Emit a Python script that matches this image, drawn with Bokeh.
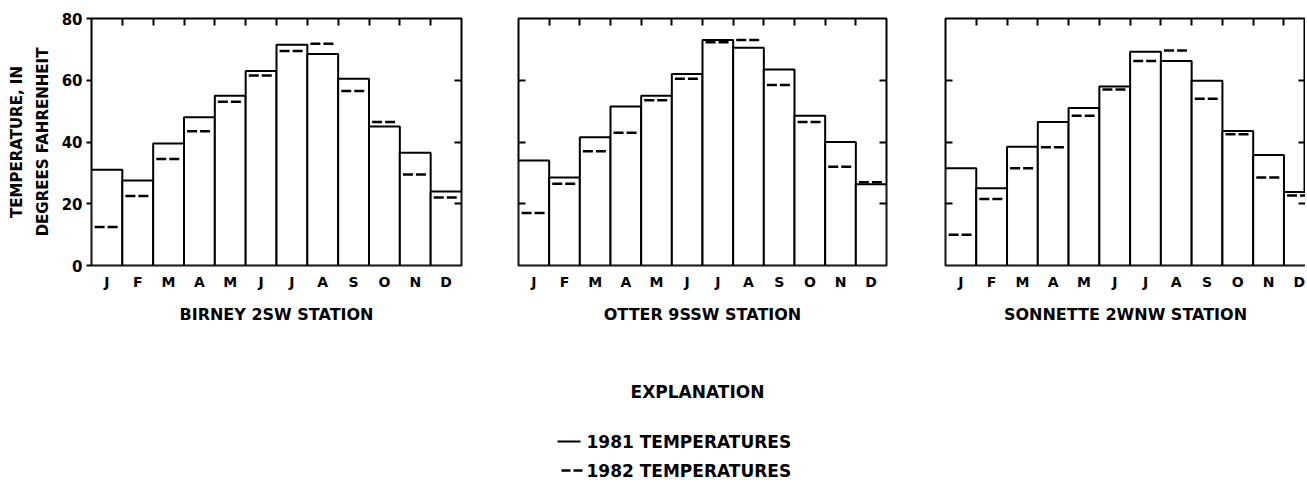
from bokeh.plotting import figure
from bokeh.layouts import column, row
from bokeh.models import Range1d, LinearAxis, FixedTicker, CustomJSTickFormatter
from bokeh.core.properties import value
from bokeh.embed import file_html
from bokeh.resources import INLINE

# ---------------- data ----------------
MONTHS = ["J", "F", "M", "A", "M", "J", "J", "A", "S", "O", "N", "D"]

STATIONS = ["BIRNEY 2SW STATION", "OTTER 9SSW STATION", "SONNETTE 2WNW STATION"]

BIRNEY_1981 = [31, 27.5, 39.5, 48, 55, 63, 71.5, 68.5, 60.5, 45, 36.5, 24]
BIRNEY_1982 = [12.5, 22.5, 34.5, 43.5, 53, 61.5, 69.5, 71.8, 56.5, 46.5, 29.5, 22]

OTTER_1981 = [34, 28.5, 41.5, 51.5, 55, 62, 73, 70.5, 63.5, 48.5, 40, 26.3]
OTTER_1982 = [17, 26.5, 37, 43, 53.5, 60.5, 72.3, 73, 58.5, 46.5, 32, 27]

SONNETTE_1981 = [31.5, 25, 38.5, 46.5, 51, 58, 69.2, 66.2, 59.8, 43.6, 35.8, 23.8]
SONNETTE_1982 = [10, 21.5, 31.5, 38.3, 48.5, 57, 66.2, 69.6, 54, 42.5, 28.5, 22.7]

Y_TICKS = [0, 20, 40, 60, 80]
LEGEND_TITLE = "EXPLANATION"
LEGEND_LABELS = ["1981 TEMPERATURES", "1982 TEMPERATURES"]

FONT = "DejaVu Sans"


def empty_fmt():
    return CustomJSTickFormatter(code="return ''")


def panel(name, v81, v82, width, min_left, min_right, x_end, labelled):
    p = figure(width=width, height=338,
               x_range=Range1d(0, x_end), y_range=Range1d(0, 80),
               output_backend="svg", toolbar_location=None,
               x_axis_location=None, y_axis_location=None,
               min_border_left=min_left, min_border_right=min_right,
               min_border_top=18, min_border_bottom=73)
    p.grid.grid_line_color = None
    p.outline_line_color = "black"
    p.outline_line_width = 2
    p.background_fill_color = "white"
    p.border_fill_color = "white"

    n = len(MONTHS)
    left = list(range(n))
    right = [i + 1 for i in range(n)]
    p.quad(left=left, right=right, bottom=[0] * n, top=v81,
           fill_color="white", line_color="black", line_width=2)
    p.segment(x0=[i + 0.1 for i in range(n)], x1=[i + 0.9 for i in range(n)],
              y0=v82, y1=v82, line_color="black", line_width=2.5,
              line_dash="10 3")

    # bottom axis: month letters + station name
    xb = LinearAxis(ticker=FixedTicker(ticks=[i + 0.5 for i in range(n)]),
                    formatter=CustomJSTickFormatter(args=dict(m=MONTHS),
                                                    code="return m[Math.floor(tick)] || ''"),
                    axis_label=name)
    xb.axis_line_color = None
    xb.major_tick_line_color = None
    xb.minor_tick_line_color = None
    xb.major_tick_in = 0
    xb.major_tick_out = 0
    xb.major_label_standoff = 8
    xb.major_label_text_font = FONT
    xb.major_label_text_font_style = "bold"
    xb.major_label_text_font_size = "14px"
    xb.major_label_text_color = "black"
    xb.axis_label_standoff = 12
    xb.axis_label_text_font = FONT
    xb.axis_label_text_font_style = "bold"
    xb.axis_label_text_font_size = "16px"
    xb.axis_label_text_color = "black"
    p.add_layout(xb, "below")

    # top axis: inward ticks at month boundaries
    xt = LinearAxis(ticker=FixedTicker(ticks=list(range(1, n))), formatter=empty_fmt())
    xt.axis_line_color = None
    xt.minor_tick_line_color = None
    xt.major_tick_in = 7
    xt.major_tick_out = 0
    xt.major_tick_line_width = 2
    xt.major_label_standoff = 0
    xt.major_label_text_font_size = "0px"
    p.add_layout(xt, "above")

    # left axis
    if labelled:
        yl = LinearAxis(ticker=FixedTicker(ticks=Y_TICKS), axis_label="DEGREES FAHRENHEIT")
        yl.major_tick_in = 0
        yl.major_tick_out = 5
        yl.major_label_standoff = 4
        yl.major_label_text_font = FONT
        yl.major_label_text_font_style = "bold"
        yl.major_label_text_font_size = "15px"
        yl.major_label_text_color = "black"
        yl.axis_label_standoff = 7
        yl.axis_label_text_font = FONT
        yl.axis_label_text_font_style = "bold"
        yl.axis_label_text_font_size = "15px"
        yl.axis_label_text_color = "black"
    else:
        yl = LinearAxis(ticker=FixedTicker(ticks=Y_TICKS[1:-1]), formatter=empty_fmt())
        yl.major_tick_in = 7
        yl.major_tick_out = 0
        yl.major_label_standoff = 0
        yl.major_label_text_font_size = "0px"
    yl.axis_line_color = None
    yl.minor_tick_line_color = None
    yl.major_tick_line_width = 2
    p.add_layout(yl, "left")

    if labelled:
        yo = LinearAxis(ticker=FixedTicker(ticks=[]), formatter=empty_fmt(),
                        axis_label="TEMPERATURE, IN")
        yo.axis_line_color = None
        yo.major_tick_line_color = None
        yo.minor_tick_line_color = None
        yo.major_tick_in = 0
        yo.major_tick_out = 0
        yo.major_label_standoff = 0
        yo.major_label_text_font_size = "0px"
        yo.axis_label_standoff = 5
        yo.axis_label_text_font = FONT
        yo.axis_label_text_font_style = "bold"
        yo.axis_label_text_font_size = "15px"
        yo.axis_label_text_color = "black"
        p.add_layout(yo, "left")

    # right axis: inward ticks
    yr = LinearAxis(ticker=FixedTicker(ticks=Y_TICKS[1:-1]), formatter=empty_fmt())
    yr.axis_line_color = None
    yr.minor_tick_line_color = None
    yr.major_tick_in = 7
    yr.major_tick_out = 0
    yr.major_tick_line_width = 2
    yr.major_label_standoff = 0
    yr.major_label_text_font_size = "0px"
    p.add_layout(yr, "right")
    return p


p1 = panel(STATIONS[0], BIRNEY_1981, BIRNEY_1982, 489, 91, 28, 12, True)
p2 = panel(STATIONS[1], OTTER_1981, OTTER_1982, 427, 29, 30, 12, False)
p3 = panel(STATIONS[2], SONNETTE_1981, SONNETTE_1982, 389, 29, 0, 11.7, False)

# ---------------- explanation (legend) ----------------
leg = figure(width=1305, height=154, x_range=Range1d(0, 1305), y_range=Range1d(492, 338),
             output_backend="svg", toolbar_location=None,
             x_axis_location=None, y_axis_location=None,
             min_border=0, min_border_left=0, min_border_right=0,
             min_border_top=0, min_border_bottom=0)
leg.grid.grid_line_color = None
leg.outline_line_color = None
leg.border_fill_color = "white"

leg.text(x=[697], y=[391], text=[LEGEND_TITLE], text_align="center", text_baseline="middle",
         text_font=value(FONT), text_font_style="bold", text_font_size="17px", text_color="black")
leg.text(x=[586, 586], y=[441, 470], text=LEGEND_LABELS, text_align="left", text_baseline="middle",
         text_font=value(FONT), text_font_style="bold", text_font_size="17px", text_color="black")
leg.segment(x0=[557], x1=[580], y0=[441], y1=[441], line_color="black", line_width=2)
leg.segment(x0=[561], x1=[583], y0=[470], y1=[470], line_color="black", line_width=2.5, line_dash="9 3")

layout = column(row(p1, p2, p3), leg)

open("out.html", "w").write(file_html(layout, INLINE))
